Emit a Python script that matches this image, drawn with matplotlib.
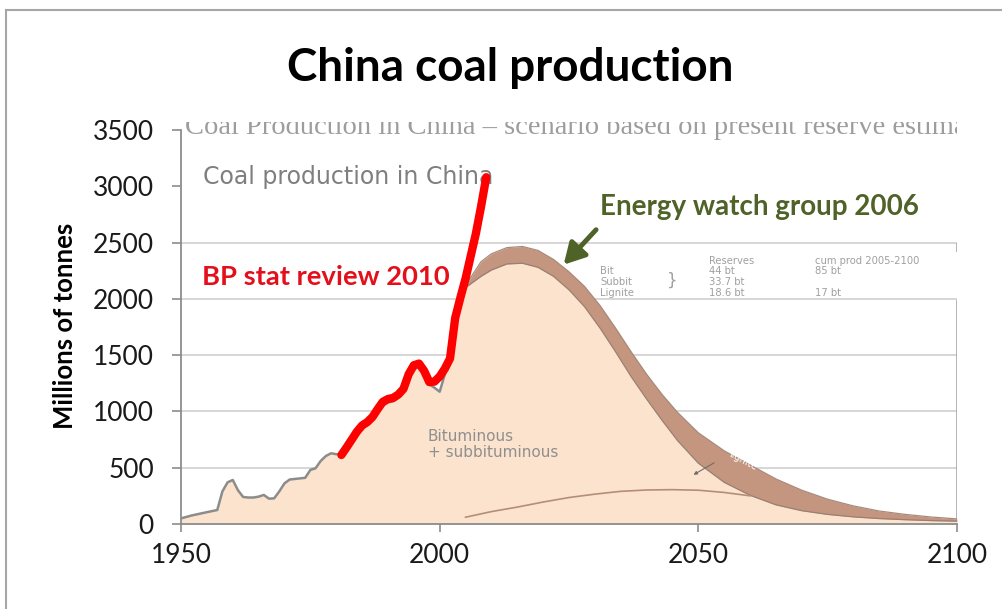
import matplotlib
matplotlib.use("Agg")
import matplotlib.pyplot as plt
from matplotlib.patches import Rectangle

# Historical production (grey outline of the scanned EWG chart)
hist_years = [1950, 1952, 1955, 1957, 1958, 1959, 1960, 1961, 1962, 1963, 1964,
              1965, 1966, 1967, 1968, 1969, 1970, 1971, 1972, 1973, 1974, 1975,
              1976, 1977, 1978, 1979, 1980, 1981, 1982, 1983, 1984, 1985, 1986,
              1987, 1988, 1989, 1990, 1991, 1992, 1993, 1994, 1995, 1996, 1997,
              1998, 1999, 2000, 2001, 2002, 2003, 2004]
hist_values = [50, 75, 105, 124, 290, 370, 391, 300, 240, 235, 235,
               243, 258, 225, 228, 290, 361, 395, 400, 405, 410, 480,
               495, 560, 604, 628, 620, 615, 665, 715, 785, 860, 890,
               925, 985, 1050, 1080, 1090, 1120, 1170, 1280, 1370, 1400, 1360,
               1240, 1210, 1175, 1330, 1480, 1750, 1980]

# EWG 2006 scenario: bituminous + subbituminous (inner) and total (outer)
proj_years = [2005, 2008, 2010, 2013, 2016, 2019, 2022, 2025, 2028, 2031, 2034,
              2037, 2040, 2043, 2046, 2050, 2055, 2060, 2065, 2070, 2075, 2080,
              2085, 2090, 2095, 2100]
proj_inner = [2100, 2200, 2256, 2310, 2316, 2280, 2200, 2080, 1930, 1740, 1530,
              1310, 1110, 920, 740, 540, 370, 255, 170, 118, 85, 63,
              48, 38, 30, 25]
proj_outer = [2120, 2330, 2400, 2455, 2465, 2430, 2350, 2240, 2110, 1940, 1740,
              1530, 1330, 1150, 990, 810, 650, 525, 400, 300, 220, 160,
              115, 85, 62, 45]

# Lignite curve
lig_years = [2005, 2010, 2015, 2020, 2025, 2030, 2035, 2040, 2045, 2050, 2055, 2060]
lig_values = [60, 110, 150, 195, 235, 265, 290, 302, 305, 300, 280, 250]

# BP statistical review 2010
bp_years = list(range(1981, 2010))
bp_values = [613, 680, 750, 820, 875, 905, 950, 1020, 1085, 1110, 1120, 1150,
             1200, 1330, 1410, 1425, 1360, 1260, 1265, 1310, 1380, 1470, 1830,
             2010, 2180, 2380, 2580, 2820, 3080]

y_ticks = [0, 500, 1000, 1500, 2000, 2500, 3000, 3500]
x_ticks = [1950, 2000, 2050, 2100]
grid_levels = [500, 1000, 1500, 2000, 2500]

font = "Lato"
tan = "#fbe3cd"
band = "#c4957f"

fig = plt.figure(figsize=(10.03, 6.09), dpi=100)
ax = fig.add_axes([0.1805, 0.1396, 0.7736, 0.6470])
ax.set_xlim(1950, 2100)
ax.set_ylim(0, 3500)
ax.patch.set_alpha(0)

# slide border
fig.add_artist(Rectangle((6 / 1003, -0.1), 2, 599 / 609 + 0.1, transform=fig.transFigure,
                         fill=False, ec="#a6a6a6", lw=1.5))

# scanned chart frame and grid
ax.hlines(grid_levels, 1950, 2100, color="#cfcfcf", lw=1.2, zorder=0)
ax.vlines(2100, 2416, 2500, color="#a8a8a8", lw=1.2, zorder=0)
ax.vlines(2100, 0, 1990, color="#a8a8a8", lw=1.2, zorder=0)

# tan area = history + bituminous projection
area_x = hist_years + proj_years
area_y = hist_values + proj_inner
ax.fill_between(area_x, 0, area_y, color=tan, lw=0, zorder=1)
ax.fill_between(proj_years, proj_inner, proj_outer, color=band, lw=0, zorder=2)
ax.plot(hist_years, hist_values, color="#8c8c8c", lw=1.8, zorder=3)
ax.plot(proj_years, proj_inner, color="#9a7f72", lw=0.9, zorder=3)
ax.plot(proj_years, proj_outer, color="#a88a7c", lw=0.9, zorder=3)
ax.plot(lig_years, lig_values, color="#b58e78", lw=1.2, zorder=3)

# BP line
ax.plot(bp_years, bp_values, color="#ff0000", lw=6, solid_capstyle="round",
        solid_joinstyle="round", zorder=5)

# scanned chart texts
clip = Rectangle((1950, 0), 150, 3575, transform=ax.transData)
t = ax.text(1950.8, 3468, "Coal Production in China \u2013 scenario based on present reserve estimates",
            family="Liberation Serif", fontsize=20.5, color="#9d9d9d", va="baseline", zorder=4)
t.set_clip_path(clip)
t.set_clip_on(True)
ax.text(1954.3, 3083, "Coal production in China", family="DejaVu Sans", fontsize=17,
        color="#7f7f7f", va="center", zorder=4)
ax.text(1997.7, 705, "Bituminous\n+ subbituminous", family="DejaVu Sans", fontsize=11,
        color="#8f8f8f", va="center", linespacing=1.1, zorder=4)

tbl = dict(family="DejaVu Sans", fontsize=7.2, color="#a0a0a0", va="center", zorder=4)
ax.text(2052.0, 2340, "Reserves", **tbl)
ax.text(2072.6, 2340, "cum prod 2005-2100", **tbl)
ax.text(2031.0, 2247, "Bit", **tbl)
ax.text(2031.0, 2150, "Subbit", **tbl)
ax.text(2031.0, 2053, "Lignite", **tbl)
ax.text(2052.0, 2247, "44 bt", **tbl)
ax.text(2052.0, 2150, "33.7 bt", **tbl)
ax.text(2052.0, 2053, "18.6 bt", **tbl)
ax.text(2072.6, 2247, "85 bt", **tbl)
ax.text(2072.6, 2053, "17 bt", **tbl)
ax.text(2044.0, 2160, "}", family="DejaVu Sans", fontsize=12, color="#a0a0a0",
        va="center", zorder=4)
ax.annotate("", xy=(2048.6, 425), xytext=(2053.5, 555),
            arrowprops=dict(arrowstyle="-|>", color="#6e6e6e", lw=0.8, mutation_scale=5),
            zorder=4)
ax.text(2055.5, 560, "lignite", family="DejaVu Sans", fontsize=7, color="white",
        rotation=-28, va="center", zorder=4)

# overlay annotations
ax.text(1978.0, 2194, "BP stat review 2010", family=font, fontweight="bold",
        fontsize=19.7, color="#e3101c", ha="center", va="center", zorder=6)
ax.text(2061.9, 2816, "Energy watch group 2006", family=font, fontweight="bold",
        fontsize=20, color="#4f6228", ha="center", va="center", zorder=6)
ax.annotate("", xy=(2023.6, 2285), xytext=(2030.6, 2632),
            arrowprops=dict(arrowstyle="-|>,head_length=0.9,head_width=0.5",
                            color="#4f6228", lw=3.5, mutation_scale=14), zorder=6)

fig.text(0.5085, 0.888, "China coal production", family=font, fontweight="bold",
         fontsize=33, ha="center", va="center")
fig.text(0.065, 0.465, "Millions of tonnes", family=font, fontweight="bold",
         fontsize=18.5, rotation=90, ha="center", va="center")

# axes styling
for side in ["top", "right"]:
    ax.spines[side].set_visible(False)
for side in ["left", "bottom"]:
    ax.spines[side].set_color("#8c8c8c")
    ax.spines[side].set_linewidth(1.3)
    ax.spines[side].set_zorder(4)
ax.set_yticks(y_ticks)
ax.set_xticks(x_ticks)
ax.tick_params(axis="y", direction="out", length=6.5, width=1.2, color="#8c8c8c",
               pad=13, labelsize=19, labelcolor="#1a1a1a")
ax.tick_params(axis="x", direction="out", length=6, width=1.2, color="#8c8c8c",
               pad=8, labelsize=19, labelcolor="#1a1a1a")
for lbl in ax.get_xticklabels() + ax.get_yticklabels():
    lbl.set_family(font)

fig.savefig("out.png", dpi=100)
